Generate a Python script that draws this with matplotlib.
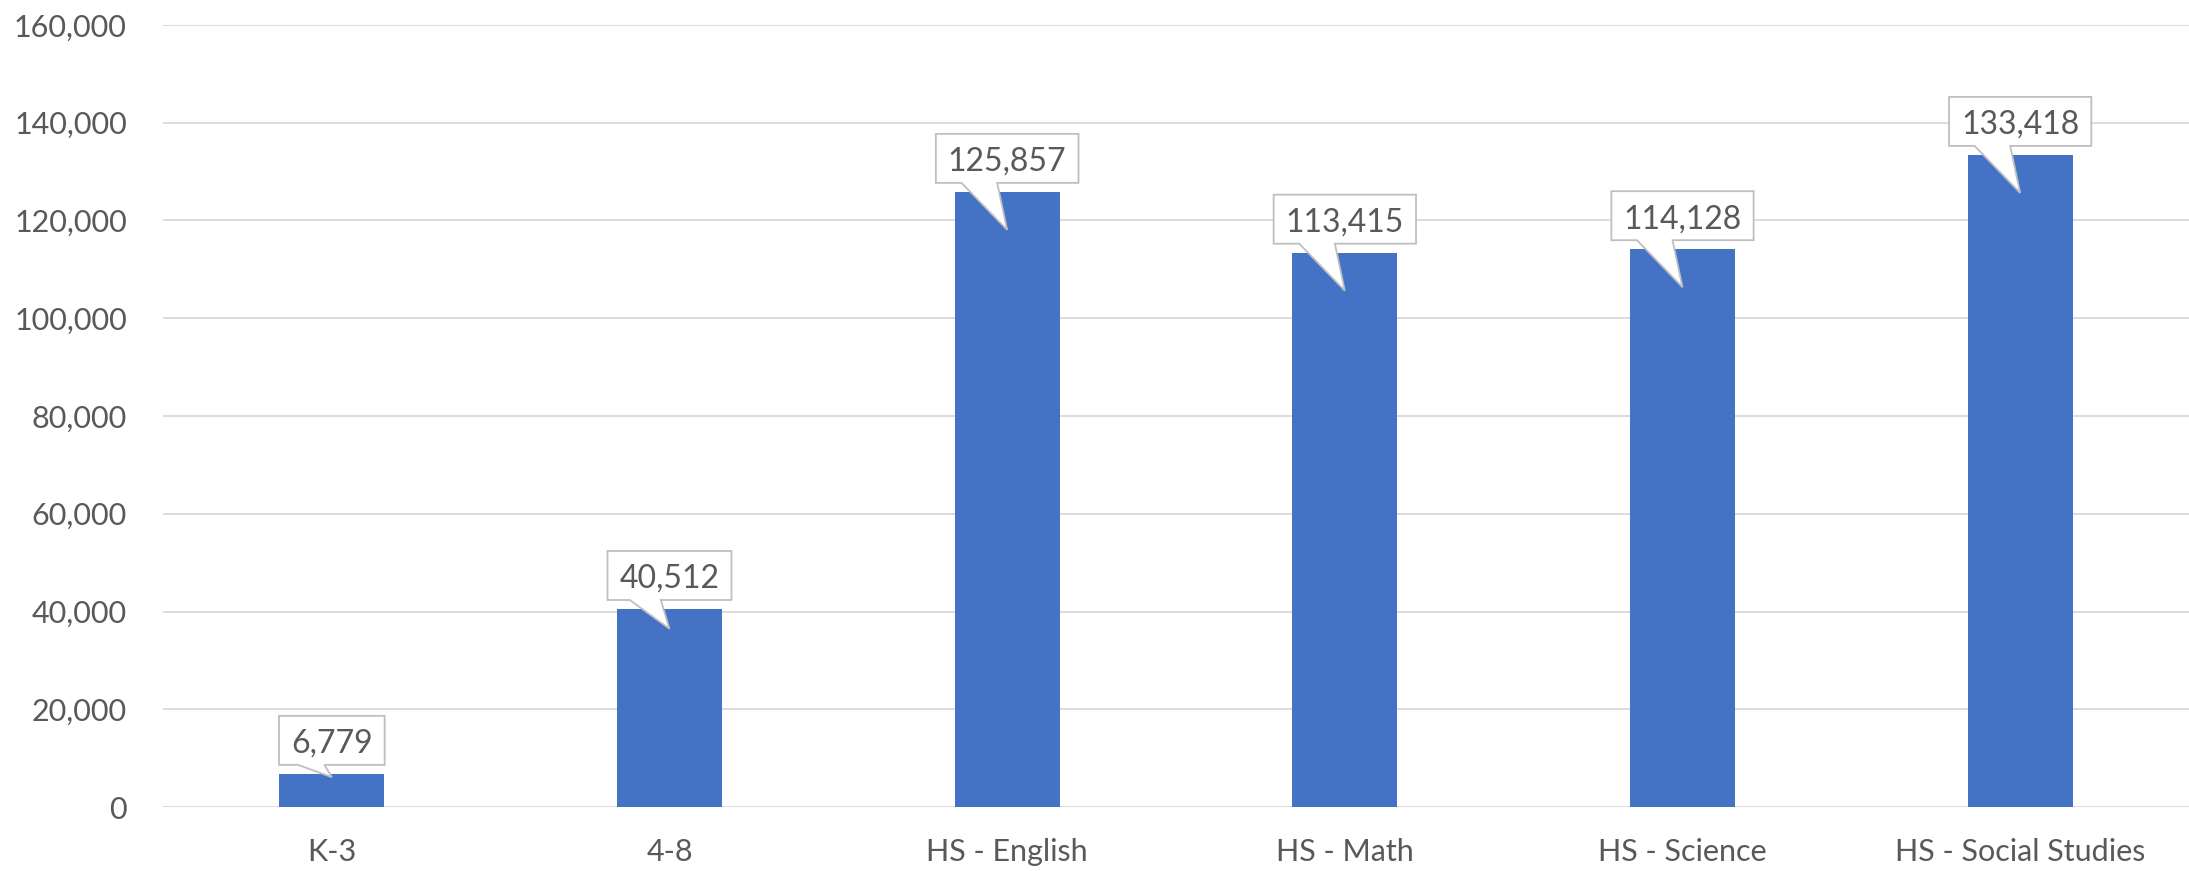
import matplotlib
matplotlib.use("Agg")
import matplotlib.pyplot as plt
import matplotlib.transforms as mtransforms
from matplotlib.patches import Polygon
from matplotlib.ticker import StrMethodFormatter

categories = ["K-3", "4-8", "HS - English", "HS - Math", "HS - Science", "HS - Social Studies"]
values = [6779, 40512, 125857, 113415, 114128, 133418]
yticks = [0, 20000, 40000, 60000, 80000, 100000, 120000, 140000, 160000]

BAR = "#4472C4"
TEXT = "#595959"
GRID = "#D9D9D9"
EDGE = "#BFBFBF"

plt.rcParams["font.family"] = ["Lato", "DejaVu Sans"]

W, H, DPI = 2189, 871, 100
fig = plt.figure(figsize=(W / DPI, H / DPI), dpi=DPI)
ax = fig.add_axes([163 / W, (H - 807) / H, (W - 163) / W, 782 / H])

x = range(len(categories))
ax.bar(x, values, width=0.31, color=BAR, zorder=2)
ax.set_xlim(-0.5, len(categories) - 0.5)
ax.set_ylim(0, 160000)
ax.set_yticks(yticks)
ax.yaxis.set_major_formatter(StrMethodFormatter("{x:,.0f}"))
ax.set_xticks(list(x))
ax.set_xticklabels(categories)
ax.tick_params(axis="y", length=0, pad=26, labelsize=22, labelcolor=TEXT)
ax.tick_params(axis="x", length=0, pad=22, labelsize=22, labelcolor=TEXT)
ax.grid(axis="y", color=GRID, linewidth=1.3, zorder=0)
for s in ax.spines.values():
    s.set_visible(False)

# data callouts, built in pixel space from the bar tops
fig.canvas.draw()
renderer = fig.canvas.get_renderer()
ident = mtransforms.IdentityTransform()
box_h = 49
for i, v in enumerate(values):
    cx, top = ax.transData.transform((i, v))
    _, base = ax.transData.transform((i, 0))
    bottom = top + 9
    t = ax.text(cx, bottom + 12, f"{v:,}", transform=ident, ha="center", va="baseline",
                fontsize=23, color=TEXT, zorder=5, clip_on=False)
    tw = t.get_window_extent(renderer).width
    bw = tw + 24
    left, right = cx - bw / 2, cx + bw / 2
    depth = min(38, (top - base) * 0.1)
    tip = (cx, top - depth)
    pts = [(left, bottom + box_h), (right, bottom + box_h), (right, bottom),
           (cx - 0.07 * bw, bottom), tip, (cx - 0.32 * bw, bottom), (left, bottom)]
    ax.add_patch(Polygon(pts, closed=True, transform=ident, facecolor="white",
                         edgecolor=EDGE, linewidth=1.3, zorder=4, clip_on=False))

fig.savefig("out.png", dpi=DPI)
